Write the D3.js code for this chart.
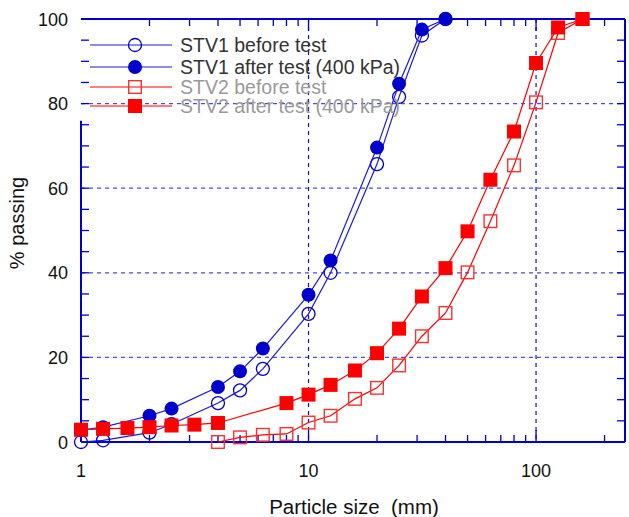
<!DOCTYPE html>
<html><head><meta charset="utf-8">
<script src="https://cdn.jsdelivr.net/npm/d3@7"></script>
<style>body{margin:0;background:#fff}svg{display:block;font-family:"Liberation Sans",Arial,sans-serif}text{white-space:pre}</style>
</head><body><svg id="c" width="629" height="517"></svg>
<script>
const stv1BeforeSize = [1, 1.25, 2, 2.5, 4, 5, 6.3, 10, 12.5, 20, 25, 31.5, 40];
const stv1BeforePass = [0, 0.4, 2.2, 4.2, 9.2, 12.2, 17.3, 30.3, 40.0, 65.7, 81.6, 96.1, 100];
const stv1AfterSize = [1, 1.25, 2, 2.5, 4, 5, 6.3, 10, 12.5, 20, 25, 31.5, 40];
const stv1AfterPass = [2.8, 3.5, 6.2, 7.9, 13.0, 16.7, 22.1, 34.8, 42.9, 69.6, 84.7, 97.5, 100];
const stv2BeforeSize = [4, 5, 6.3, 8, 10, 12.5, 16, 20, 25, 31.5, 40, 50, 63, 80, 100, 125, 160];
const stv2BeforePass = [0, 1.1, 1.7, 1.9, 4.6, 6.2, 10.2, 12.8, 18.1, 25.0, 30.5, 40.1, 52.2, 65.4, 80.3, 96.7, 100];
const stv2AfterSize = [1, 1.25, 1.6, 2, 2.5, 3.15, 4, 8, 10, 12.5, 16, 20, 25, 31.5, 40, 50, 63, 80, 100, 125, 160];
const stv2AfterPass = [2.9, 3.1, 3.3, 3.5, 3.9, 4.1, 4.5, 9.2, 11.2, 13.5, 16.9, 21.0, 26.8, 34.4, 41.1, 49.8, 62.0, 73.4, 89.6, 98.0, 100];
const seriesNames = ["STV1 before test", "STV1 after test (400 kPa)", "STV2 before test", "STV2 after test (400 kPa)"];
const xTickValues = [1, 10, 100];
const yTickValues = [0, 20, 40, 60, 80, 100];
const xLabel = "Particle size  (mm)";
const yLabel = "% passing";

const svg = d3.select("#c");
const L = 81, T = 19, R = 625, B = 442;
const x = d3.scaleLog().domain([1, 246]).range([L, R]);
const y = d3.scaleLinear().domain([0, 100]).range([B, T]);
const BLUE = "#0000cc", RED = "#ff0000";

// grid
const g = svg.append("g");
[20, 40, 60, 80].forEach(v => g.append("line").attr("x1", L).attr("x2", R).attr("y1", y(v)).attr("y2", y(v))
  .attr("stroke", "#4a4aee").attr("stroke-width", 1.2).attr("stroke-dasharray", "4,4"));
[10, 100].forEach(v => g.append("line").attr("x1", x(v)).attr("x2", x(v)).attr("y1", T).attr("y2", B)
  .attr("stroke", "#1010cc").attr("stroke-width", 1.2).attr("stroke-dasharray", "4,4"));

// frame
const fr = svg.append("g").attr("stroke", BLUE).attr("stroke-width", 2).attr("fill", "none");
fr.append("line").attr("x1", L).attr("x2", R).attr("y1", T).attr("y2", T);
fr.append("line").attr("x1", L).attr("x2", R).attr("y1", B).attr("y2", B);
fr.append("line").attr("x1", R).attr("x2", R).attr("y1", T).attr("y2", B);
fr.append("line").attr("x1", L).attr("x2", L).attr("y1", y(75) - 4).attr("y2", B);

// ticks
const minorX = [];
for (let dec = 1; dec <= 100; dec *= 10) for (let k = 2; k <= 9; k++) if (k * dec < 246) minorX.push(k * dec);
const tk = svg.append("g").attr("stroke", BLUE).attr("stroke-width", 1.3);
minorX.concat([10, 100]).forEach(v => {
  const len = (v === 10 || v === 100) ? 12 : 7;
  tk.append("line").attr("x1", x(v)).attr("x2", x(v)).attr("y1", B).attr("y2", B - len);
  tk.append("line").attr("x1", x(v)).attr("x2", x(v)).attr("y1", T).attr("y2", T + len);
});
d3.range(5, 100, 5).forEach(v => {
  tk.append("line").attr("x1", L).attr("x2", L + 8).attr("y1", y(v)).attr("y2", y(v));
  tk.append("line").attr("x1", R).attr("x2", R - 8).attr("y1", y(v)).attr("y2", y(v));
});

// tick labels
const lab = svg.append("g").attr("font-size", 18).attr("fill", "#111");
xTickValues.forEach(v => lab.append("text").attr("x", x(v)).attr("y", 477).attr("text-anchor", "middle").text(v));
yTickValues.forEach(v => lab.append("text").attr("x", 68).attr("y", y(v) + 6.5).attr("text-anchor", "end").text(v));
svg.append("text").attr("x", 354).attr("y", 514).attr("text-anchor", "middle").attr("font-size", 20.5).attr("fill", "#111").text(xLabel);
svg.append("text").attr("transform", "translate(24,223) rotate(-90)").attr("text-anchor", "middle").attr("font-size", 20).attr("fill", "#111").text(yLabel);

// series
const series = [
  {sx: stv1BeforeSize, sy: stv1BeforePass, color: BLUE, line: "#1a1ae0", shape: "circle", fill: false},
  {sx: stv1AfterSize, sy: stv1AfterPass, color: BLUE, line: "#1a1ae0", shape: "circle", fill: true},
  {sx: stv2BeforeSize, sy: stv2BeforePass, color: "#ff3030", line: RED, shape: "square", fill: false},
  {sx: stv2AfterSize, sy: stv2AfterPass, color: RED, line: RED, shape: "square", fill: true}
];
const lineGen = d3.line().x(d => x(d[0])).y(d => y(d[1]));
function marker(sel, s, cx, cy) {
  if (s.shape === "circle") {
    sel.append("circle").attr("cx", cx).attr("cy", cy).attr("r", s.fill ? 7 : 6.5)
      .attr("fill", s.fill ? s.color : "none").attr("stroke", s.color).attr("stroke-width", s.fill ? 0 : 1.3);
  } else {
    const h = s.fill ? 7 : 6.3;
    sel.append("rect").attr("x", cx - h).attr("y", cy - h).attr("width", 2 * h).attr("height", 2 * h)
      .attr("fill", s.fill ? s.color : "none").attr("stroke", s.color).attr("stroke-width", s.fill ? 0 : 1.4);
  }
}
series.forEach(s => {
  const data = s.sx.map((v, i) => [v, s.sy[i]]);
  const gg = svg.append("g");
  gg.append("path").attr("d", lineGen(data)).attr("fill", "none").attr("stroke", s.line).attr("stroke-width", 1.2);
  data.forEach(d => marker(gg, s, x(d[0]), y(d[1])));
});

// legend
const legY = [45, 67, 87, 106];
const legColors = ["#333", "#333", "#999", "#999"];
series.forEach((s, i) => {
  const gl = svg.append("g");
  gl.append("line").attr("x1", 90).attr("x2", 172).attr("y1", legY[i]).attr("y2", legY[i]).attr("stroke", s.line).attr("stroke-width", 1.2);
  marker(gl, s, 135, legY[i]);
  gl.append("text").attr("x", 180).attr("y", legY[i] + 7).attr("font-size", 19.5).attr("fill", legColors[i]).text(seriesNames[i]);
});
</script></body></html>
